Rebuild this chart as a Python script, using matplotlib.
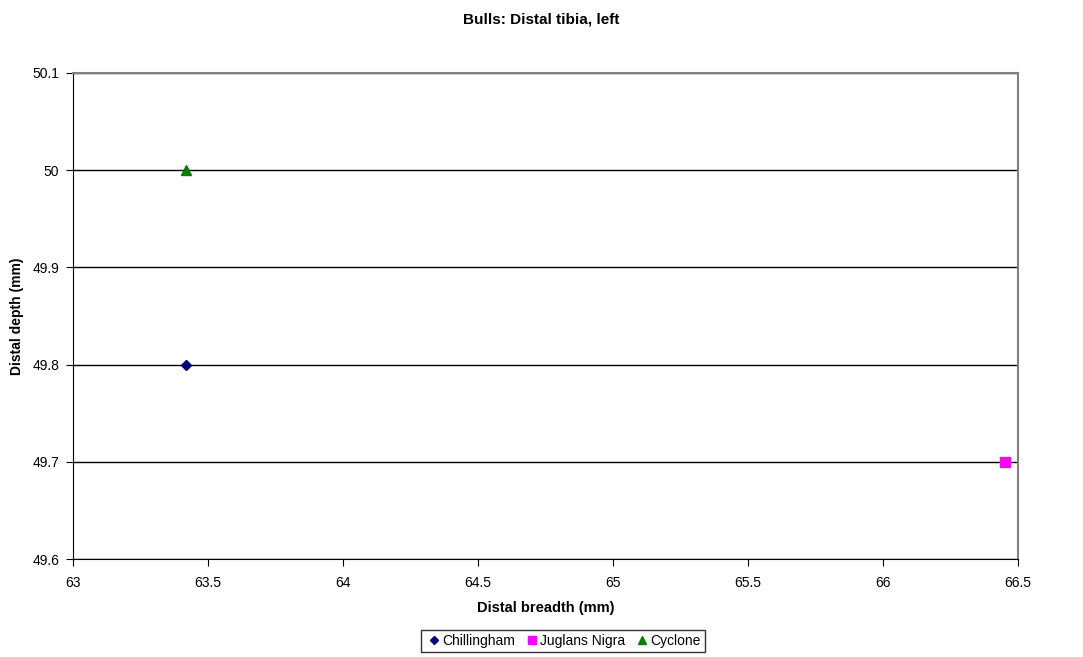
import matplotlib
matplotlib.use('Agg')
from matplotlib import pyplot as plt

plt.rcParams['font.family'] = ['Liberation Sans', 'DejaVu Sans']

# data
series = ['Chillingham', 'Juglans Nigra', 'Cyclone']
breadth = [[63.42], [66.45], [63.42]]
depth = [[49.8], [49.7], [50.0]]
markers = ['D', 's', '^']
colors = ['#000080', '#FF00FF', '#008000']
sizes = [5, 7, 7]

x_ticks = [63, 63.5, 64, 64.5, 65, 65.5, 66, 66.5]
y_ticks = [49.6, 49.7, 49.8, 49.9, 50.0, 50.1]

fig = plt.figure(figsize=(10.83, 6.57), dpi=100)
ax = fig.add_axes([0.0674, 0.149, 0.8726, 0.740])

for name, x, y, m, c, s in zip(series, breadth, depth, markers, colors, sizes):
    ax.plot(x, y, linestyle='none', marker=m, color=c, markersize=s,
            markeredgecolor=c, label=name, zorder=3, clip_on=False)

ax.set_xlim(63, 66.5)
ax.set_ylim(49.6, 50.1)
ax.set_xticks(x_ticks)
ax.set_xticklabels(['63', '63.5', '64', '64.5', '65', '65.5', '66', '66.5'])
ax.set_yticks(y_ticks)
ax.set_yticklabels(['49.6', '49.7', '49.8', '49.9', '50', '50.1'])
ax.grid(axis='y', color='black', linewidth=1)
ax.set_axisbelow(True)

ax.spines['top'].set_color('#808080')
ax.spines['right'].set_color('#808080')
ax.spines['top'].set_linewidth(1.5)
ax.spines['right'].set_linewidth(1.5)
ax.spines['left'].set_color('black')
ax.spines['bottom'].set_color('black')
ax.tick_params(axis='both', direction='out', length=5, labelsize=10, color='black')
ax.tick_params(axis='x', pad=7)
ax.tick_params(axis='y', pad=5)

ax.set_xlabel('Distal breadth (mm)', fontsize=10.5, fontweight='bold', labelpad=8)
ax.set_ylabel('Distal depth (mm)', fontsize=10, fontweight='bold', labelpad=6)
fig.text(0.5, 0.9696, 'Bulls: Distal tibia, left', fontsize=11, fontweight='bold',
         ha='center', va='center')

leg = fig.legend(loc='center', bbox_to_anchor=(0.52, 0.024), ncol=3, fontsize=10,
                 frameon=True, fancybox=False, edgecolor='black', handletextpad=0.0,
                 columnspacing=0.6, borderpad=0.3, handlelength=1.2, markerscale=0.8)
leg.get_frame().set_linewidth(1)

fig.savefig('out.png', dpi=100)
